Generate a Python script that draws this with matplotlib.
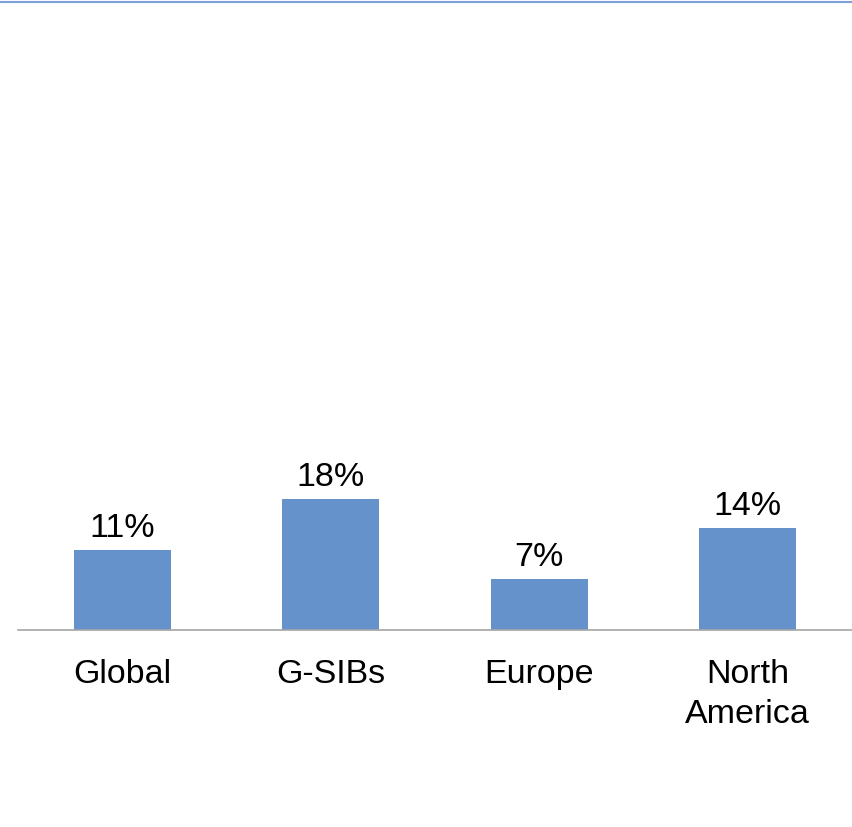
import matplotlib as mplt
mplt.use("Agg")
import matplotlib.pyplot as plt
from matplotlib.lines import Line2D

plt.rcParams['font.family'] = ['Liberation Sans', 'DejaVu Sans']

categories = ['Global', 'G-SIBs', 'Europe', 'North\nAmerica']
shares = [11, 18, 7, 14]   # percent

BAR_COLOR = '#6692cc'

fig = plt.figure(figsize=(8.52, 8.28), dpi=100)
# axes span: x 18..852 px, y 3..631 px (from top)
W, H = 852, 828
ax = fig.add_axes([18 / W, (H - 631) / H, (852 - 18) / W, (631 - 3) / H])

x = range(len(categories))
ax.bar(x, shares, width=0.465, color=BAR_COLOR, zorder=2)

for xi, v in zip(x, shares):
    ax.annotate(f'{v}%', (xi, v), xytext=(0, 10), textcoords='offset points',
                ha='center', va='baseline', fontsize=24.5, color='black')

ax.set_xlim(-0.5, len(categories) - 0.5)
ax.set_ylim(0, 86.5)
ax.set_yticks([])
ax.set_xticks(list(x))
ax.set_xticklabels(categories, fontsize=24.5, linespacing=1.4)
ax.tick_params(axis='x', length=0, pad=20)

for side in ['top', 'right', 'left']:
    ax.spines[side].set_visible(False)
ax.spines['bottom'].set_color('#a6a6a6')
ax.spines['bottom'].set_linewidth(1.2)

# thin rule across the top of the figure
fig.add_artist(Line2D([1 / W, 1.0], [1 - 2.5 / H, 1 - 2.5 / H],
                      transform=fig.transFigure, color='#7da0d8', linewidth=1.5))

fig.savefig('out.png', dpi=100)
